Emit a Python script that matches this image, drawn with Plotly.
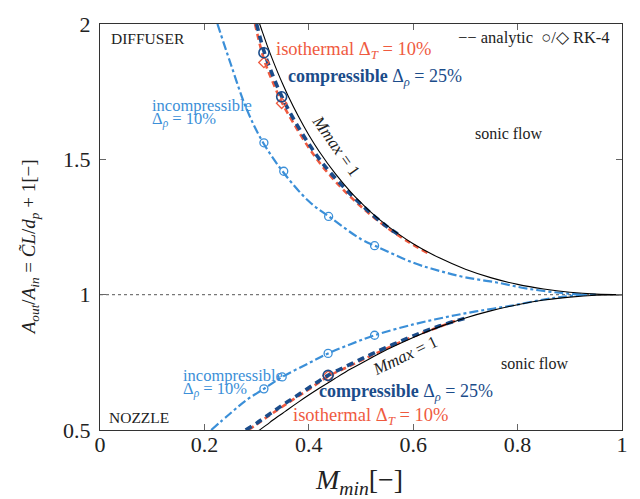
import plotly.graph_objects as go

# ---- sonic-throat reference curve (M_max = 1) ----
m_sonic = [0.300, 0.305, 0.31, 0.32, 0.33, 0.34, 0.35, 0.36, 0.38, 0.40, 0.42, 0.45, 0.48,
           0.50, 0.52, 0.55, 0.60, 0.65, 0.70, 0.75, 0.80, 0.85, 0.90, 0.95, 1.00]
diffuser_sonic = [2.035, 2.005, 1.977, 1.922, 1.871, 1.823, 1.778, 1.736, 1.659, 1.590, 1.529,
                  1.449, 1.380, 1.340, 1.303, 1.255, 1.188, 1.136, 1.094, 1.062, 1.038, 1.021,
                  1.009, 1.002, 1.000]
nozzle_sonic = [0.491, 0.499, 0.506, 0.520, 0.535, 0.549, 0.562, 0.576, 0.603, 0.629, 0.654,
                0.690, 0.725, 0.746, 0.767, 0.797, 0.842, 0.881, 0.914, 0.941, 0.963, 0.980,
                0.991, 0.998, 1.000]

# ---- compressible, delta_rho = 25 % ----
comp_m_up = [0.300, 0.314, 0.33, 0.348, 0.37, 0.40, 0.43, 0.47, 0.51, 0.55, 0.575]
comp_up = [2.000, 1.900, 1.815, 1.733, 1.652, 1.557, 1.477, 1.391, 1.316, 1.251, 1.218]
comp_m_lo = [0.279, 0.30, 0.33, 0.36, 0.40, 0.437, 0.48, 0.52, 0.56, 0.60, 0.65, 0.705]
comp_lo = [0.500, 0.525, 0.566, 0.605, 0.656, 0.702, 0.743, 0.780, 0.815, 0.848, 0.884, 0.916]

# ---- isothermal, delta_T = 10 % ----
iso_m_up = [0.297, 0.314, 0.33, 0.348, 0.37, 0.40, 0.43, 0.47, 0.51, 0.55, 0.59, 0.629]
iso_up = [2.000, 1.870, 1.790, 1.712, 1.636, 1.543, 1.465, 1.380, 1.309, 1.247, 1.196, 1.152]
iso_m_lo = [0.284, 0.30, 0.33, 0.36, 0.40, 0.437, 0.48, 0.52, 0.56, 0.60, 0.64, 0.68]
iso_lo = [0.500, 0.521, 0.561, 0.600, 0.650, 0.698, 0.738, 0.775, 0.811, 0.845, 0.874, 0.903]

# ---- incompressible, delta_rho = 10 % ----
inc_m_up = [0.225, 0.25, 0.28, 0.31, 0.35, 0.40, 0.44, 0.50, 0.53, 0.60, 0.65, 0.70,
            0.76, 0.82, 0.88, 0.92, 0.95]
inc_up = [2.000, 1.855, 1.690, 1.570, 1.455, 1.345, 1.287, 1.205, 1.178, 1.118, 1.088, 1.064,
          1.045, 1.022, 1.007, 1.001, 1.000]
inc_m_lo = [0.213, 0.25, 0.28, 0.314, 0.349, 0.40, 0.437, 0.48, 0.526, 0.60, 0.66, 0.72,
            0.79, 0.85, 0.89, 0.93]
inc_lo = [0.500, 0.562, 0.610, 0.652, 0.696, 0.747, 0.783, 0.817, 0.850, 0.890, 0.916, 0.938,
          0.960, 0.982, 0.993, 1.000]

# ---- RK-4 samples ----
rk_comp_m = [0.314, 0.348, 0.437]
rk_comp = [1.894, 1.731, 0.702]
rk_iso_m = [0.314, 0.348, 0.437]
rk_iso = [1.858, 1.707, 0.700]
rk_inc_m = [0.314, 0.352, 0.438, 0.526, 0.314, 0.349, 0.437, 0.526]
rk_inc = [1.561, 1.456, 1.289, 1.181, 0.652, 0.696, 0.783, 0.850]

unity_m = [0.0, 1.0]
unity = [1.0, 1.0]

x_ticks = [0, 0.2, 0.4, 0.6, 0.8, 1]
x_tick_text = ["0", "0.2", "0.4", "0.6", "0.8", "1"]
y_ticks = [0.5, 1, 1.5, 2]
y_tick_text = ["0.5", "1", "1.5", "2"]

RED = "#ef5a3f"
DARK = "#1b4c8a"
LIGHT = "#3b8fd8"
SERIF = "Liberation Serif"

fig = go.Figure()

fig.add_trace(go.Scatter(x=unity_m, y=unity, mode="lines",
                         line=dict(color="#777777", width=1.2, dash="dot")))

for xs, ys in ((inc_m_up, inc_up), (inc_m_lo, inc_lo)):
    fig.add_trace(go.Scatter(x=xs, y=ys, mode="lines", line_shape="spline",
                             line=dict(color=LIGHT, width=2.2, dash="dashdot")))

for xs, ys in ((iso_m_up, iso_up), (iso_m_lo, iso_lo)):
    fig.add_trace(go.Scatter(x=xs, y=ys, mode="lines", line_shape="spline",
                             line=dict(color=RED, width=2.6, dash="6px,4px")))

for xs, ys in ((comp_m_up, comp_up), (comp_m_lo, comp_lo)):
    fig.add_trace(go.Scatter(x=xs, y=ys, mode="lines", line_shape="spline",
                             line=dict(color=DARK, width=3.6, dash="7px,5px")))

for ys in (diffuser_sonic, nozzle_sonic):
    fig.add_trace(go.Scatter(x=m_sonic, y=ys, mode="lines", line_shape="spline",
                             line=dict(color="black", width=1.1)))

fig.add_trace(go.Scatter(x=rk_inc_m, y=rk_inc, mode="markers",
                         marker=dict(symbol="circle-open", size=8, color=LIGHT,
                                     line=dict(width=1.3))))
fig.add_trace(go.Scatter(x=rk_iso_m, y=rk_iso, mode="markers",
                         marker=dict(symbol="diamond-open", size=8, color=RED,
                                     line=dict(width=1.3))))
fig.add_trace(go.Scatter(x=rk_comp_m, y=rk_comp, mode="markers",
                         marker=dict(symbol="circle-open", size=10, color=DARK,
                                     line=dict(width=1.6))))


def label(x, y, text, color="#222222", size=15, xanchor="center", angle=0):
    fig.add_annotation(x=x, y=y, text=text, showarrow=False, xanchor=xanchor,
                       yanchor="middle", textangle=angle,
                       font=dict(family=SERIF, size=size, color=color))


label(0.0914, 1.946, "DIFFUSER", size=15.5)
label(0.0752, 0.5445, "NOZZLE", size=15.5)
label(0.981, 1.951, "−− analytic  ○/◇ RK-4", size=16.5, xanchor="right")
label(0.783, 1.597, "sonic flow", size=16)
label(0.834, 0.746, "sonic flow", size=16)
label(0.4514, 1.550, "<i>Mmax</i> = 1", size=17, angle=55)
label(0.5848, 0.775, "<i>Mmax</i> = 1", size=17, angle=-25.5)

label(0.3333, 1.901, "isothermal Δ<sub><i>T</i></sub> = 10%", color=RED, size=18.5, xanchor="left")
label(0.3657, 0.549, "isothermal Δ<sub><i>T</i></sub> = 10%", color=RED, size=18.5, xanchor="left")
label(0.356, 1.803, "<b>compressible</b> Δ<sub><i>ρ</i></sub> = 25%", color=DARK, size=18,
      xanchor="left")
label(0.4152, 0.6376, "<b>compressible</b> Δ<sub><i>ρ</i></sub> = 25%", color=DARK, size=18,
      xanchor="left")
label(0.0952, 1.700, "incompressible", color=LIGHT, size=16.5, xanchor="left")
label(0.0952, 1.648, "Δ<sub><i>ρ</i></sub> = 10%", color=LIGHT, size=16.5, xanchor="left")
label(0.156, 0.701, "incompressible", color=LIGHT, size=16.5, xanchor="left")
label(0.156, 0.649, "Δ<sub><i>ρ</i></sub> = 10%", color=LIGHT, size=16.5, xanchor="left")

# axis titles
fig.add_annotation(xref="paper", yref="paper", x=-0.135, y=0.449,
                   text="<i>A<sub>out</sub></i>/<i>A<sub>in</sub></i> = <i>C̃L</i>/<i>d<sub>p</sub></i> + 1[−]",
                   showarrow=False, textangle=-90, xanchor="center", yanchor="middle",
                   font=dict(family=SERIF, size=19, color="#222222"))
fig.add_annotation(xref="paper", yref="paper", x=0.497, y=-0.128,
                   text="<i>M<sub>min</sub></i>[−]", showarrow=False,
                   xanchor="center", yanchor="middle",
                   font=dict(family=SERIF, size=28, color="#222222"))

axis_common = dict(showgrid=False, zeroline=False, showline=True, linecolor="#333333",
                   linewidth=1.2, mirror="ticks", ticks="inside", ticklen=6,
                   tickcolor="#666666", tickwidth=1,
                   tickfont=dict(family=SERIF, size=22, color="#222222"))

fig.update_xaxes(range=[0, 1], tickvals=x_ticks, ticktext=x_tick_text,
                 ticklabelstandoff=-6, **axis_common)
fig.update_yaxes(range=[0.5, 2], tickvals=y_ticks, ticktext=y_tick_text,
                 ticklabelstandoff=4, **axis_common)

fig.update_layout(width=640, height=499, showlegend=False,
                  margin=dict(l=100, r=15, t=16, b=69),
                  paper_bgcolor="white", plot_bgcolor="white")

fig.write_html("out.html")
